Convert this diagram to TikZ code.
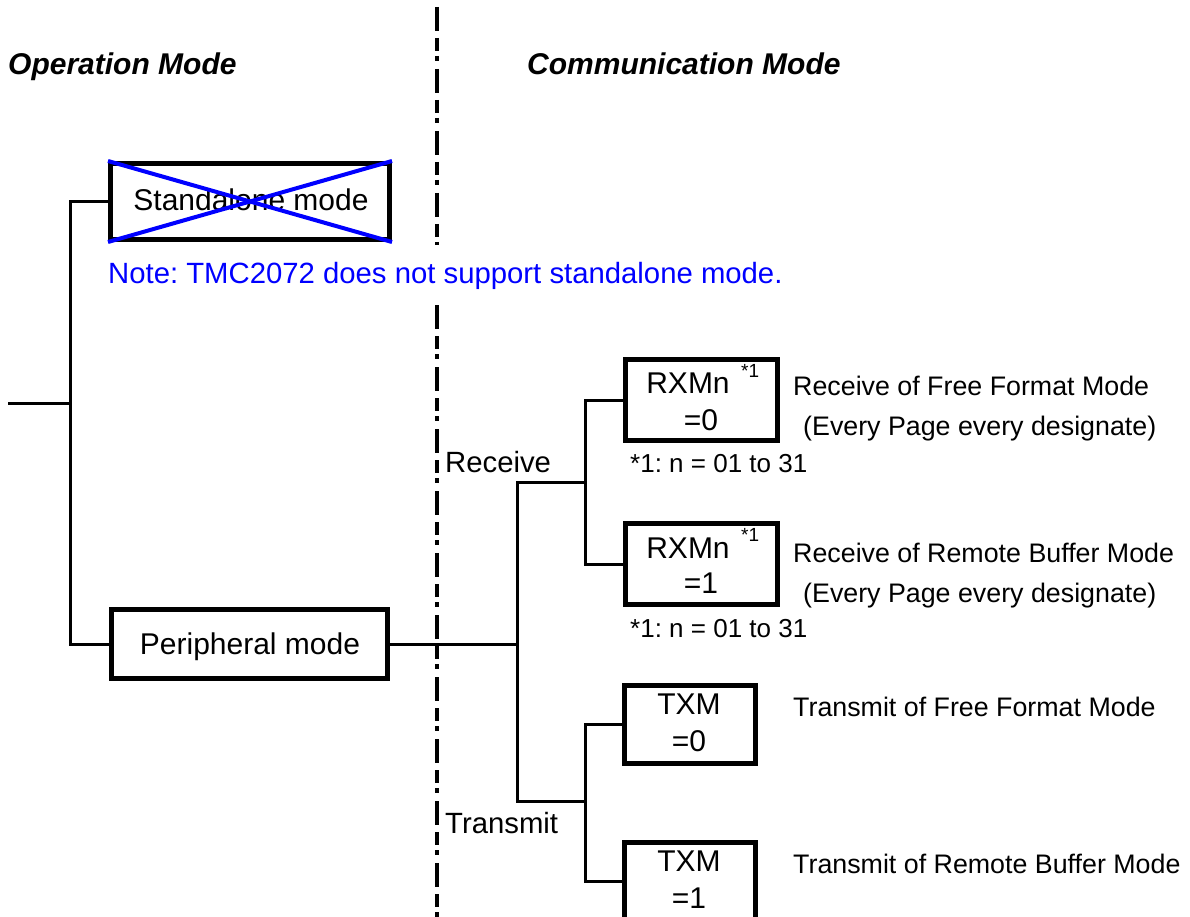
\documentclass[tikz,border=0pt]{standalone}
\usepackage{fontspec}
\setmainfont{Liberation Sans}
\definecolor{noteblue}{RGB}{0,0,255}
\frenchspacing
\begin{document}
\begin{tikzpicture}[x=1pt,y=-1pt,
  mbox/.style={draw, line width=5pt, inner sep=0pt},
  conn/.style={line width=3pt},
  divider/.style={line width=4pt, dash pattern=on 24pt off 7pt on 13pt off 5pt on 5pt off 8pt},
  lbl/.style={inner sep=0pt, anchor=base west, font=\fontsize{29.3}{33}\selectfont},
  ctr/.style={inner sep=0pt, anchor=base, font=\fontsize{30}{34}\selectfont},
  rlbl/.style={inner sep=0pt, anchor=base west, font=\fontsize{26.8}{31}\selectfont},
  fnote/.style={inner sep=0pt, anchor=base west, font=\fontsize{26}{30}\selectfont},
  supnote/.style={inner sep=0pt, anchor=base west, font=\fontsize{19}{22}\selectfont},
  head/.style={inner sep=0pt, anchor=base west, font=\fontsize{30}{34}\selectfont\bfseries\itshape},
  cross/.style={draw=noteblue, line width=4pt}
]
\useasboundingbox (0,0) rectangle (1190,917);
\clip (0,0) rectangle (1190,917);

% headers
\node[head] (hop) at (8,75) {Operation Mode};
\node[head] (hcm) at (527,75) {Communication Mode};

% divider
\coordinate (d1) at (437,7);
\coordinate (d2) at (437,245);
\coordinate (d3) at (437,305);
\coordinate (d4) at (437,930);
\draw[divider] (d1) -- (d2);
\draw[divider] (d3) -- (d4);

% boxes
\node[mbox, minimum width=279pt, minimum height=76pt] (stand) at (250,201.5) {};
\node[mbox, minimum width=276pt, minimum height=69pt] (periph) at (249.5,644) {};
\node[mbox, minimum width=152pt, minimum height=81pt] (rx0) at (701.5,400) {};
\node[mbox, minimum width=152pt, minimum height=81pt] (rx1) at (701.5,564) {};
\node[mbox, minimum width=131pt, minimum height=78pt] (tx0) at (690,724.5) {};
\node[mbox, minimum width=131pt, minimum height=78pt] (tx1) at (690,881.5) {};

% box texts
\node[ctr] (tstand) at (251,211) {Standalone mode};
\draw[cross] (stand.north west) -- (stand.south east);
\draw[cross] (stand.south west) -- (stand.north east);
\node[ctr] (tperiph) at (250,654) {Peripheral mode};

\node[ctr] (trx0a) at (688,393) {RXMn};
\node[supnote] (srx0) at (741,377) {*1};
\node[ctr] (trx0b) at (701,430) {=0};
\node[ctr] (trx1a) at (688,558) {RXMn};
\node[supnote] (srx1) at (741,541) {*1};
\node[ctr] (trx1b) at (701,593) {=1};

\node[ctr] (ttx0a) at (689,714) {TXM};
\node[ctr] (ttx0b) at (689,751) {=0};
\node[ctr] (ttx1a) at (689,871) {TXM};
\node[ctr] (ttx1b) at (689,908) {=1};

% note
\node[lbl, text=noteblue] (note) at (108,283) {Note: TMC2072 does not support standalone mode.};

% side labels
\node[lbl] (lrec) at (445,472) {Receive};
\node[lbl] (ltra) at (445,833) {Transmit};
\node[fnote] (fn0) at (630,472) {*1: n = 01 to 31};
\node[fnote] (fn1) at (630,637) {*1: n = 01 to 31};

\node[rlbl] (r0a) at (793,395) {Receive of Free Format Mode};
\node[rlbl] (r0b) at (803,435) {(Every Page every designate)};
\node[rlbl] (r1a) at (793,562) {Receive of Remote Buffer Mode};
\node[rlbl] (r1b) at (803,602) {(Every Page every designate)};
\node[rlbl] (t0a) at (793,716) {Transmit of Free Format Mode};
\node[rlbl] (t1a) at (793,873) {Transmit of Remote Buffer Mode};

% connectors
\coordinate (lin) at (8,403);
\coordinate (lj) at (70,403);
\coordinate (j1) at (517,644);
\coordinate (rxj) at (585,482);
\coordinate (txj) at (585,801);

\draw[conn] (lin) -- (lj);
\draw[conn] (stand.west) -| (lj) |- (periph.west);
\draw[conn] (periph.east) -- (j1);
\draw[conn] (rxj) -| (j1) |- (txj);
\draw[conn] (rx0.west) -| (rxj) |- (rx1.west);
\draw[conn] (tx0.west) -| (txj) |- (tx1.west);
\end{tikzpicture}
\end{document}
